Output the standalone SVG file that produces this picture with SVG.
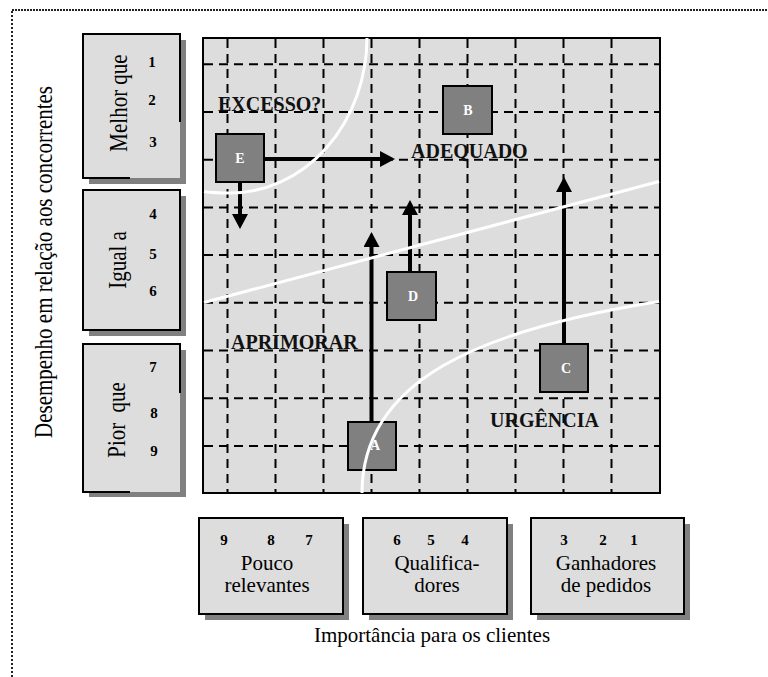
<svg xmlns="http://www.w3.org/2000/svg" width="768" height="677" viewBox="0 0 768 677">
<style>
  .bg{fill:#fff}
  .box{fill:#dddddd}
  .shadow{fill:#808080}
  .bd{fill:none;stroke:#000;stroke-width:2}
  .grid{fill:none;stroke:#000;stroke-width:2;stroke-dasharray:9 6}
  .curve{fill:none;stroke:#fff;stroke-width:3}
  .node{fill:#808080;stroke:#000;stroke-width:2}
  .nl{font-family:"Liberation Serif","Times New Roman",serif;font-weight:bold;font-size:14px;fill:#fff;text-anchor:middle}
  .t{font-family:"Liberation Serif","Times New Roman",serif;font-size:21px;fill:#000;text-anchor:middle}
  .num{font-family:"Liberation Serif","Times New Roman",serif;font-weight:bold;font-size:15px;fill:#000;text-anchor:middle}
  .zone{font-family:"Liberation Serif","Times New Roman",serif;font-weight:bold;font-size:20px;fill:#111;text-anchor:start}
  .arrow{fill:none;stroke:#000;stroke-width:4}
</style>
<defs>
  <marker id="ah" viewBox="0 0 15 16" refX="0" refY="8" markerWidth="15" markerHeight="16" markerUnits="userSpaceOnUse" orient="auto">
    <path d="M0,0 L15,8 L0,16 z" fill="#000"/>
  </marker>
</defs>
<rect class="bg" x="0" y="0" width="768" height="677"/>
<path d="M12,677 V10" fill="none" stroke="#222" stroke-width="2" stroke-dasharray="2 2"/>
<path d="M12,10 H768" fill="none" stroke="#222" stroke-width="2" stroke-dasharray="2 1"/>

<text class="t" transform="translate(52,262) rotate(-90) scale(1,1.2)">Desempenho em relação aos concorrentes</text>

<g id="melhor">
  <rect class="shadow" x="89" y="40" width="97" height="144"/>
  <rect class="box" x="83" y="34" width="97" height="144"/>
  <path class="bd" d="M130,178 H83 V34 H180 V122"/>
  <text class="t" transform="translate(127,103) rotate(-90) scale(1,1.2)">Melhor que</text>
  <text class="num" x="152" y="67">1</text>
  <text class="num" x="152" y="105">2</text>
  <text class="num" x="153" y="147">3</text>
</g>
<g id="igual">
  <rect class="shadow" x="89" y="196" width="97" height="140"/>
  <rect class="box" x="83" y="190" width="97" height="140"/>
  <path class="bd" d="M83,190 H180 V330 H83 Z"/>
  <text class="t" transform="translate(126,260) rotate(-90) scale(1,1.2)">Igual a</text>
  <text class="num" x="153" y="219">4</text>
  <text class="num" x="153" y="259">5</text>
  <text class="num" x="153" y="296">6</text>
</g>
<g id="pior">
  <rect class="shadow" x="89" y="350" width="97" height="147"/>
  <rect class="box" x="83" y="344" width="97" height="148"/>
  <path class="bd" d="M130,492 H83 V344 H180 V393"/>
  <text class="t" transform="translate(125,420) rotate(-90) scale(1,1.2)" word-spacing="5">Pior que</text>
  <text class="num" x="153" y="372">7</text>
  <text class="num" x="154" y="418">8</text>
  <text class="num" x="154" y="456">9</text>
</g>

<g id="matrix">
  <rect x="203" y="38" width="457" height="455" fill="#dddddd"/>
  <path class="grid" d="M227.5,39 V492 M275.5,39 V492 M323.5,39 V492 M371.5,39 V492 M419.5,39 V492 M467.5,39 V492 M515.5,39 V492 M563.5,39 V492 M611.5,39 V492"/>
  <path class="grid" d="M204,64.3 H659 M204,112 H659 M204,159.7 H659 M204,207.4 H659 M204,255.1 H659 M204,302.8 H659 M204,350.5 H659 M204,398.2 H659 M204,445.9 H659"/>
  <rect x="203" y="38" width="457" height="455" class="bd"/>
</g>

<g id="labels">
  <text class="zone" x="218" y="111">EXCESSO?</text>
  <text class="zone" x="411" y="158">ADEQUADO</text>
  <text class="zone" x="231" y="349">APRIMORAR</text>
  <text class="zone" x="490" y="427">URGÊNCIA</text>
</g>

<g id="connectors">
  <path class="arrow" d="M264,159 H380" marker-end="url(#ah)"/>
  <path class="arrow" d="M240,182 V214" marker-end="url(#ah)"/>
  <path class="arrow" d="M371.5,422 V247" marker-end="url(#ah)"/>
  <path class="arrow" d="M410,272 V215" marker-end="url(#ah)"/>
  <path class="arrow" d="M564,344 V192" marker-end="url(#ah)"/>
</g>

<g id="node-E">
  <rect class="node" x="216" y="134" width="48" height="48"/>
  <text class="nl" x="240" y="163">E</text>
</g>
<g id="node-B">
  <rect class="node" x="443" y="86" width="49" height="48"/>
  <text class="nl" x="468" y="115">B</text>
</g>
<g id="node-D">
  <rect class="node" x="387" y="272" width="49" height="48"/>
  <text class="nl" x="413" y="301">D</text>
</g>
<g id="node-C">
  <rect class="node" x="540" y="344" width="48" height="48"/>
  <text class="nl" x="566" y="373">C</text>
</g>
<g id="node-A">
  <rect class="node" x="348" y="422" width="48" height="48"/>
  <text class="nl" x="375" y="450">A</text>
</g>

<g id="curves">
  <path class="curve" d="M367,38 A137 156 0 0 1 230,193 Q214,193 204,191.5"/>
  <path class="curve" d="M204,302.5 L659,181.5"/>
  <path class="curve" d="M362,493 C362,380 480,330 659,301.5"/>
</g>

<g id="pouco">
  <rect class="shadow" x="205" y="524" width="144" height="96"/>
  <rect class="box" x="199" y="518" width="144" height="96"/>
  <rect class="bd" x="199" y="518" width="144" height="96"/>
  <text class="num" x="224" y="545">9</text>
  <text class="num" x="271" y="545">8</text>
  <text class="num" x="309" y="545">7</text>
  <text class="t" x="267" y="570">Pouco</text>
  <text class="t" x="267" y="592">relevantes</text>
</g>
<g id="qualificadores">
  <rect class="shadow" x="369" y="524" width="144" height="96"/>
  <rect class="box" x="363" y="518" width="144" height="96"/>
  <rect class="bd" x="363" y="518" width="144" height="96"/>
  <text class="num" x="397" y="545">6</text>
  <text class="num" x="431" y="545">5</text>
  <text class="num" x="465" y="545">4</text>
  <text class="t" x="437" y="570">Qualifica-</text>
  <text class="t" x="437" y="592">dores</text>
</g>
<g id="ganhadores">
  <rect class="shadow" x="537" y="524" width="153" height="96"/>
  <rect class="box" x="531" y="518" width="153" height="96"/>
  <rect class="bd" x="531" y="518" width="153" height="96"/>
  <text class="num" x="564" y="545">3</text>
  <text class="num" x="603" y="545">2</text>
  <text class="num" x="634" y="545">1</text>
  <text class="t" x="606" y="570">Ganhadores</text>
  <text class="t" x="606" y="592">de pedidos</text>
</g>

<text class="t" x="432" y="642">Importância para os clientes</text>
</svg>
